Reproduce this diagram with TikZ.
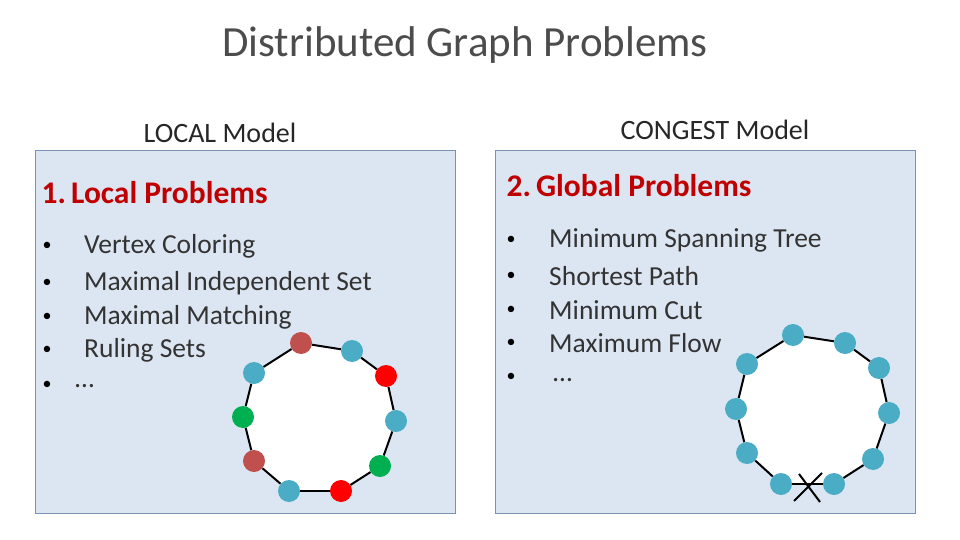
\documentclass[tikz,border=0pt]{standalone}
\usepackage{fontspec}
\setmainfont{Carlito}
\begin{document}
\begin{tikzpicture}[x=1pt,y=-1pt,
  panel/.style={draw={rgb,255:red,120;green,145;blue,180}, line width=0.8pt, fill={rgb,255:red,220;green,230;blue,242}},
  head/.style={anchor=west, font=\bfseries\fontsize{31.5}{35}\selectfont, text={rgb,255:red,192;green,0;blue,0}},
  item/.style={anchor=west, inner sep=1pt, font=\fontsize{27.5}{30}\selectfont, text=black!80},
  bul/.style={anchor=center, inner sep=1pt, font=\fontsize{18}{22}\selectfont},
  vb/.style={circle, minimum size=22pt, inner sep=0pt, fill={rgb,255:red,75;green,172;blue,198}},
  vr/.style={circle, minimum size=22pt, inner sep=0pt, fill=red},
  vg/.style={circle, minimum size=22pt, inner sep=0pt, fill={rgb,255:red,0;green,176;blue,80}},
  vm/.style={circle, minimum size=22pt, inner sep=0pt, fill={rgb,255:red,192;green,80;blue,77}},
  edge/.style={line width=2pt}]
\useasboundingbox (0,0) rectangle (960,540);
\node[font=\fontsize{43}{48}\selectfont, text=black!70] (title) at (465,45) {Distributed Graph Problems};
\node[font=\fontsize{28}{32}\selectfont, text=black!85] (lm) at (220,133) {LOCAL Model};
\node[font=\fontsize{28}{32}\selectfont, text=black!85] (cm) at (715,130) {CONGEST Model};
\path[panel] (35,150) rectangle (455,513);
\path[panel] (495,150) rectangle (915,513);
\node[head] (h1) at (38,193) {1.\,Local Problems};
\node[head] (h2) at (503,186) {2.\,Global Problems};
\foreach \t [count=\i] in {Vertex Coloring,Maximal Independent Set,Maximal Matching,Ruling Sets} {
  \pgfmathsetmacro\yy{{246,283,317,350}[\i-1]}
  \node[bul] (lb\i) at (47,\yy) {•};
  \node[item] (li\i) at (83,\yy) {\t};
}
\node[bul] (lb5) at (47,385) {•};
\node[item] (li5) at (74,386) {…};
\foreach \t [count=\i] in {Minimum Spanning Tree,Shortest Path,Minimum Cut,Maximum Flow} {
  \pgfmathsetmacro\yy{{240,276,310,343}[\i-1]}
  \node[bul] (rb\i) at (511,\yy) {•};
  \node[item] (ri\i) at (548,\yy) {\t};
}
\node[bul] (rb5) at (511,377) {•};
\node[item] (ri5) at (552,380) {…};
% left ring
\fill[white] (301,343)--(352,351)--(386,376)--(396,421)--(380,466)--(341,491)--(289,491)--(254,461)--(243,417)--(254,373)--cycle;
\node[vm] (a1) at (301,343) {};
\node[vb] (a2) at (352,351) {};
\node[vr] (a3) at (386,376) {};
\node[vb] (a4) at (396,421) {};
\node[vg] (a5) at (380,466) {};
\node[vr] (a6) at (341,491) {};
\node[vb] (a7) at (289,491) {};
\node[vm] (a8) at (254,461) {};
\node[vg] (a9) at (243,417) {};
\node[vb] (a10) at (254,373) {};
\foreach \i/\j in {1/2,2/3,3/4,4/5,5/6,6/7,7/8,8/9,9/10,10/1}
  \draw[edge] (a\i) -- (a\j);
% right ring
\fill[white] (793,335)--(845,343)--(879,368)--(889,413)--(873,459)--(834,484)--(781,484)--(747,453)--(736,409)--(747,364)--cycle;
\node[vb] (b1) at (793,335) {};
\node[vb] (b2) at (845,343) {};
\node[vb] (b3) at (879,368) {};
\node[vb] (b4) at (889,413) {};
\node[vb] (b5) at (873,459) {};
\node[vb] (b6) at (834,484) {};
\node[vb] (b7) at (781,484) {};
\node[vb] (b8) at (747,453) {};
\node[vb] (b9) at (736,409) {};
\node[vb] (b10) at (747,364) {};
\foreach \i/\j in {1/2,2/3,3/4,4/5,5/6,6/7,7/8,8/9,9/10,10/1}
  \draw[edge] (b\i) -- (b\j);
\coordinate (x1) at (794,501); \coordinate (x2) at (822,473);
\coordinate (x3) at (799,474); \coordinate (x4) at (820,502);
\draw[line width=2pt] (x1) -- (x2) (x3) -- (x4);
\end{tikzpicture}
\end{document}
